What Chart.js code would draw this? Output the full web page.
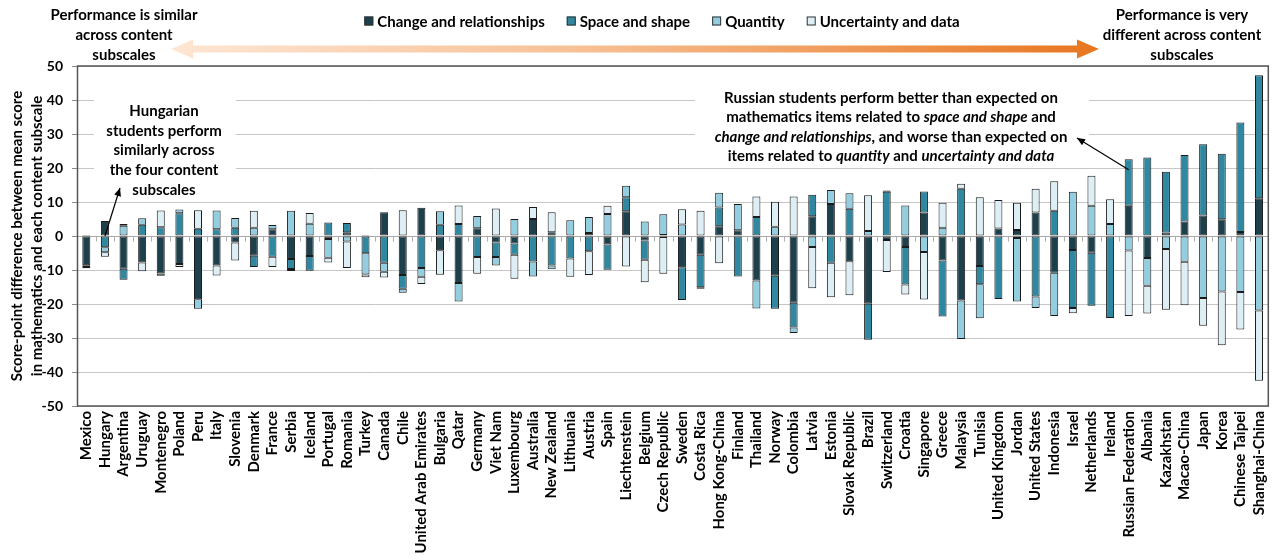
<!DOCTYPE html>
<html>
<head>
<meta charset="utf-8">
<script src="https://cdn.jsdelivr.net/npm/chart.js@4.4.1/dist/chart.umd.min.js"></script>
<style>
  html, body { margin: 0; padding: 0; background: #fff; }
  #wrap { width: 1282px; height: 560px; }
</style>
</head>
<body>
<div id="wrap"><canvas id="chart" width="1282" height="560"></canvas></div>
<script>
// Countries, ordered from the most even to the most uneven profile across subscales
const countries = [
  'Mexico', 'Hungary', 'Argentina', 'Uruguay', 'Montenegro', 'Poland', 'Peru', 'Italy',
  'Slovenia', 'Denmark', 'France', 'Serbia', 'Iceland', 'Portugal', 'Romania', 'Turkey',
  'Canada', 'Chile', 'United Arab Emirates', 'Bulgaria', 'Qatar', 'Germany', 'Viet Nam',
  'Luxembourg', 'Australia', 'New Zealand', 'Lithuania', 'Austria', 'Spain', 'Liechtenstein',
  'Belgium', 'Czech Republic', 'Sweden', 'Costa Rica', 'Hong Kong-China', 'Finland',
  'Thailand', 'Norway', 'Colombia', 'Latvia', 'Estonia', 'Slovak Republic', 'Brazil',
  'Switzerland', 'Croatia', 'Singapore', 'Greece', 'Malaysia', 'Tunisia', 'United Kingdom',
  'Jordan', 'United States', 'Indonesia', 'Israel', 'Netherlands', 'Ireland',
  'Russian Federation', 'Albania', 'Kazakhstan', 'Macao-China', 'Japan', 'Korea',
  'Chinese Taipei', 'Shanghai-China'
];

// Score-point difference between each content subscale and the mean mathematics score
const changeRelationships = [
  -8.6, 4.4, -9.6, -7.8, -11.0, -8.2, -18.6, -8.7,
  -1.9, -5.8, 2.0, -6.8, -5.9, -0.9, 1.1, 0.3,
  7.0, -11.5, 8.3, -4.2, -13.8, 2.3, -1.9,
  -2.2, 5.0, 1.1, 0, 0.9, -2.5, 7.3,
  -1.3, 0.3, -9.2, -5.5, 2.9, 1.7,
  -13.1, -11.7, -19.6, 5.8, 9.4, -7.4, -19.9,
  -1.2, -3.2, 6.9, -7.2, -19.0, -8.8, 2.2,
  1.8, 6.9, -10.8, -4.1, -4.9, 0,
  8.9, -6.5, 1.0, 4.3, 6.0, 4.9,
  1.2, 11.1
];
const spaceShape = [
  -0.5, -3.3, -3.3, 3.3, 2.6, 6.7, 2.1, 2.0,
  2.4, -3.3, -6.1, -2.9, -4.3, 4.0, 2.7, -5.1,
  -7.9, -4.0, -9.4, 3.3, 3.5, -6.2, -4.3,
  -3.3, -7.5, -8.7, -6.6, -4.5, -7.4, 4.1,
  -5.7, -0.3, -9.6, -9.6, 5.5, -11.9,
  5.6, -9.7, -7.3, 6.3, -7.9, 8.0, -10.6,
  13.0, -11.1, 6.2, -16.5, 13.9, -5.4, -18.5,
  -0.6, -17.8, 7.4, -17.1, -15.6, -24.1,
  13.7, 23.1, 17.9, 19.5, 21.0, 19.3,
  32.2, 36.2
];
const quantity = [
  0.3, -1.5, 3.0, 1.9, -0.7, 1.1, -2.8, 5.5,
  2.9, 2.4, 1.2, 7.4, 3.6, -5.5, -1.6, -6.2,
  -2.6, -1.2, -2.6, 4.0, -5.5, 3.6, -2.5,
  5.0, -4.4, -1.1, 4.6, 4.7, 6.5, 3.4,
  4.3, 6.1, 3.4, -0.4, 4.3, 7.7,
  -8.2, 2.7, -1.6, -3.2, 4.1, 4.6, 1.5,
  0.4, 9.0, -4.7, 2.4, -11.3, -10.0, 0,
  -18.7, -3.4, -12.7, 13.0, 8.9, 3.5,
  -4.3, -8.1, -3.8, -7.6, -18.2, -16.3,
  -16.5, -21.9
];
const uncertaintyData = [
  -0.4, -1.3, 0.5, -2.6, 4.9, -0.9, 5.5, -2.9,
  -5.3, 5.0, -3.0, -0.6, 3.2, -1.4, -7.8, -0.8,
  -1.7, 7.6, -2.1, -7.2, 5.5, -4.9, 8.1,
  -7.1, 3.5, 5.9, -5.4, -7.0, 2.4, -9.0,
  -6.6, -10.8, 4.5, 7.4, -8.0, 0,
  6.0, 7.4, 11.6, -12.2, -10.1, -10.0, 10.5,
  -9.4, -2.9, -14.0, 7.4, 1.5, 11.4, 8.4,
  8.0, 7.0, 8.7, -1.5, 8.8, 7.3,
  -19.2, -8.2, -17.9, -12.8, -8.2, -15.8,
  -11.0, -20.7
];

// Value axis bounds and step
const yMin = -50, yMax = 50, yStep = 10;

const FONT = 'Lato, "Open Sans", "DejaVu Sans", sans-serif';
const TEXT_COLOR = '#000000';
const TXT = 15;

const seriesStyle = (label, data, color) => ({
  label, data,
  backgroundColor: color,
  borderColor: '#1a1a1a',
  borderWidth: 1,
  borderSkipped: false,
  barPercentage: 0.43,
  categoryPercentage: 1
});

// White panels behind the notes, plot frame, zero-line ticks, legend, notes and arrows
const decorations = {
  id: 'decorations',
  beforeDatasetsDraw(chart) {
    const { ctx, chartArea: a, scales: { x, y } } = chart;
    ctx.save();
    ctx.fillStyle = '#ffffff';
    ctx.fillRect(94, 95, 142, 102);
    ctx.fillRect(695, 86, 394, 76);
    // small tick marks between categories on the zero line
    ctx.strokeStyle = '#b0b0b0';
    ctx.lineWidth = 1;
    const y0 = Math.round(y.getPixelForValue(0)) + 0.5;
    const step = (a.right - a.left) / countries.length;
    ctx.beginPath();
    for (let i = 0; i <= countries.length; i++) {
      const px = Math.round(x.getPixelForValue(i) - step / 2) + 0.5;
      ctx.moveTo(px, y0);
      ctx.lineTo(px, y0 + 5);
    }
    ctx.stroke();
    ctx.restore();
  },
  afterDraw(chart) {
    const { ctx, chartArea: a, scales: { x, y } } = chart;
    ctx.save();
    // plot frame
    ctx.strokeStyle = '#555555';
    ctx.lineWidth = 1.5;
    ctx.strokeRect(a.left + 0.5, a.top, a.right - a.left - 0.5, a.bottom - a.top);

    // legend
    ctx.font = 'bold ' + TXT + 'px ' + FONT;
    ctx.textBaseline = 'middle';
    ctx.textAlign = 'left';
    const box = 9, gapBox = 4, gapItem = 22, ly = 21;
    const items = chart.data.datasets.map(d => ({
      label: d.label, color: d.backgroundColor, w: ctx.measureText(d.label).width
    }));
    const total = items.reduce((s, it) => s + box + gapBox + it.w, 0) + gapItem * (items.length - 1);
    let lx = 662 - total / 2;
    items.forEach(it => {
      ctx.fillStyle = it.color;
      ctx.fillRect(lx, ly - box / 2, box, box);
      ctx.strokeStyle = '#333';
      ctx.lineWidth = 1;
      ctx.strokeRect(lx + 0.5, ly - box / 2 + 0.5, box - 1, box - 1);
      ctx.fillStyle = TEXT_COLOR;
      ctx.font = 'bold ' + TXT + 'px ' + FONT;
      ctx.fillText(it.label, lx + box + gapBox, ly + 1);
      lx += box + gapBox + it.w + gapItem;
    });

    // centred multi-line bold text
    const lines = (arr, cx, y0, lh) => {
      ctx.font = 'bold ' + TXT + 'px ' + FONT;
      ctx.textAlign = 'center';
      ctx.fillStyle = TEXT_COLOR;
      arr.forEach((t, i) => ctx.fillText(t, cx, y0 + i * lh));
    };
    lines(['Performance is similar', 'across content', 'subscales'], 124, 15, 20);
    lines(['Performance is very', 'different across content', 'subscales'], 1182, 15, 20);
    lines(['Hungarian', 'students perform', 'similarly across', 'the four content', 'subscales'], 164, 111, 19.7);

    // mixed roman / italic lines
    const rich = (segs, cx, yy) => {
      const fonts = segs.map(s => (s.i ? 'italic bold ' : 'bold ') + TXT + 'px ' + FONT);
      const widths = segs.map((s, k) => { ctx.font = fonts[k]; return ctx.measureText(s.t).width; });
      let sx = cx - widths.reduce((p, q) => p + q, 0) / 2;
      ctx.textAlign = 'left';
      segs.forEach((s, k) => { ctx.font = fonts[k]; ctx.fillText(s.t, sx, yy); sx += widths[k]; });
    };
    rich([{ t: 'Russian students perform better than expected on' }], 891, 98);
    rich([{ t: 'mathematics items related to ' }, { t: 'space and shape', i: true }, { t: ' and' }], 891, 117.5);
    rich([{ t: 'change and relationships', i: true }, { t: ', and worse than expected on' }], 891, 137);
    rich([{ t: 'items related to ' }, { t: 'quantity', i: true }, { t: ' and ' }, { t: 'uncertainty and data', i: true }], 891, 156.5);

    // pointer arrows from a bar to its note
    const pointer = (x1, y1, x2, y2) => {
      ctx.strokeStyle = '#000';
      ctx.fillStyle = '#000';
      ctx.lineWidth = 1.2;
      ctx.beginPath(); ctx.moveTo(x1, y1); ctx.lineTo(x2, y2); ctx.stroke();
      const ang = Math.atan2(y2 - y1, x2 - x1), L = 8, W = 3.5;
      ctx.beginPath();
      ctx.moveTo(x2, y2);
      ctx.lineTo(x2 - L * Math.cos(ang) + W * Math.sin(ang), y2 - L * Math.sin(ang) - W * Math.cos(ang));
      ctx.lineTo(x2 - L * Math.cos(ang) - W * Math.sin(ang), y2 - L * Math.sin(ang) + W * Math.cos(ang));
      ctx.closePath(); ctx.fill();
    };
    const iHu = countries.indexOf('Hungary');
    pointer(x.getPixelForValue(iHu), y.getPixelForValue(0), 120, 188);
    const iRu = countries.indexOf('Russian Federation');
    pointer(x.getPixelForValue(iRu), y.getPixelForValue(19.5), 1077, 138);

    // double-headed gradient arrow above the plot
    const ax1 = 171, ax2 = 1099, ay = 49, shaft = 7, headL = 22, headH = 19;
    const grad = ctx.createLinearGradient(ax1, 0, ax2, 0);
    grad.addColorStop(0, '#fde6d4');
    grad.addColorStop(0.45, '#f7bf93');
    grad.addColorStop(1, '#e8761f');
    ctx.fillStyle = grad;
    ctx.beginPath();
    ctx.moveTo(ax1, ay);
    ctx.lineTo(ax1 + headL, ay - headH / 2);
    ctx.lineTo(ax1 + headL, ay - shaft / 2);
    ctx.lineTo(ax2 - headL, ay - shaft / 2);
    ctx.lineTo(ax2 - headL, ay - headH / 2);
    ctx.lineTo(ax2, ay);
    ctx.lineTo(ax2 - headL, ay + headH / 2);
    ctx.lineTo(ax2 - headL, ay + shaft / 2);
    ctx.lineTo(ax1 + headL, ay + shaft / 2);
    ctx.lineTo(ax1 + headL, ay + headH / 2);
    ctx.closePath();
    ctx.fill();
    ctx.restore();
  }
};

new Chart(document.getElementById('chart'), {
  type: 'bar',
  data: {
    labels: countries,
    datasets: [
      seriesStyle('Change and relationships', changeRelationships, '#1c414c'),
      seriesStyle('Space and shape', spaceShape, '#2f87a0'),
      seriesStyle('Quantity', quantity, '#93cde0'),
      seriesStyle('Uncertainty and data', uncertaintyData, '#ddeff5')
    ]
  },
  options: {
    responsive: false,
    devicePixelRatio: 1,
    animation: false,
    events: [],
    layout: { padding: { top: 66, right: 2, bottom: 0, left: 0 } },
    plugins: { legend: { display: false }, tooltip: { enabled: false } },
    scales: {
      x: {
        stacked: true,
        grid: { display: false, drawTicks: false },
        border: { display: false },
        ticks: {
          autoSkip: false, maxRotation: 90, minRotation: 90, padding: 5,
          color: TEXT_COLOR, font: { family: FONT, size: TXT, weight: 'bold' }
        },
        afterFit(scale) { scale.height = 154; }
      },
      y: {
        stacked: true,
        min: yMin, max: yMax,
        ticks: {
          stepSize: yStep, padding: 9,
          color: TEXT_COLOR, font: { family: FONT, size: 14, weight: 'bold' }
        },
        grid: {
          color: ctx => (ctx.tick && ctx.tick.value === 0) ? '#a8a8a8' : '#c6c6c6',
          lineWidth: 1, tickLength: 5, tickColor: '#8c8c8c'
        },
        border: { display: true, color: '#8c8c8c' },
        title: {
          display: true,
          text: ['Score-point difference between mean score', 'in mathematics and each content subscale'],
          color: TEXT_COLOR,
          font: { family: FONT, size: TXT, weight: 'bold', lineHeight: '20px' },
          padding: { top: 7, bottom: 0 }
        },
        afterFit(scale) { scale.width = 77; }
      }
    }
  },
  plugins: [decorations]
});
</script>
</body>
</html>
